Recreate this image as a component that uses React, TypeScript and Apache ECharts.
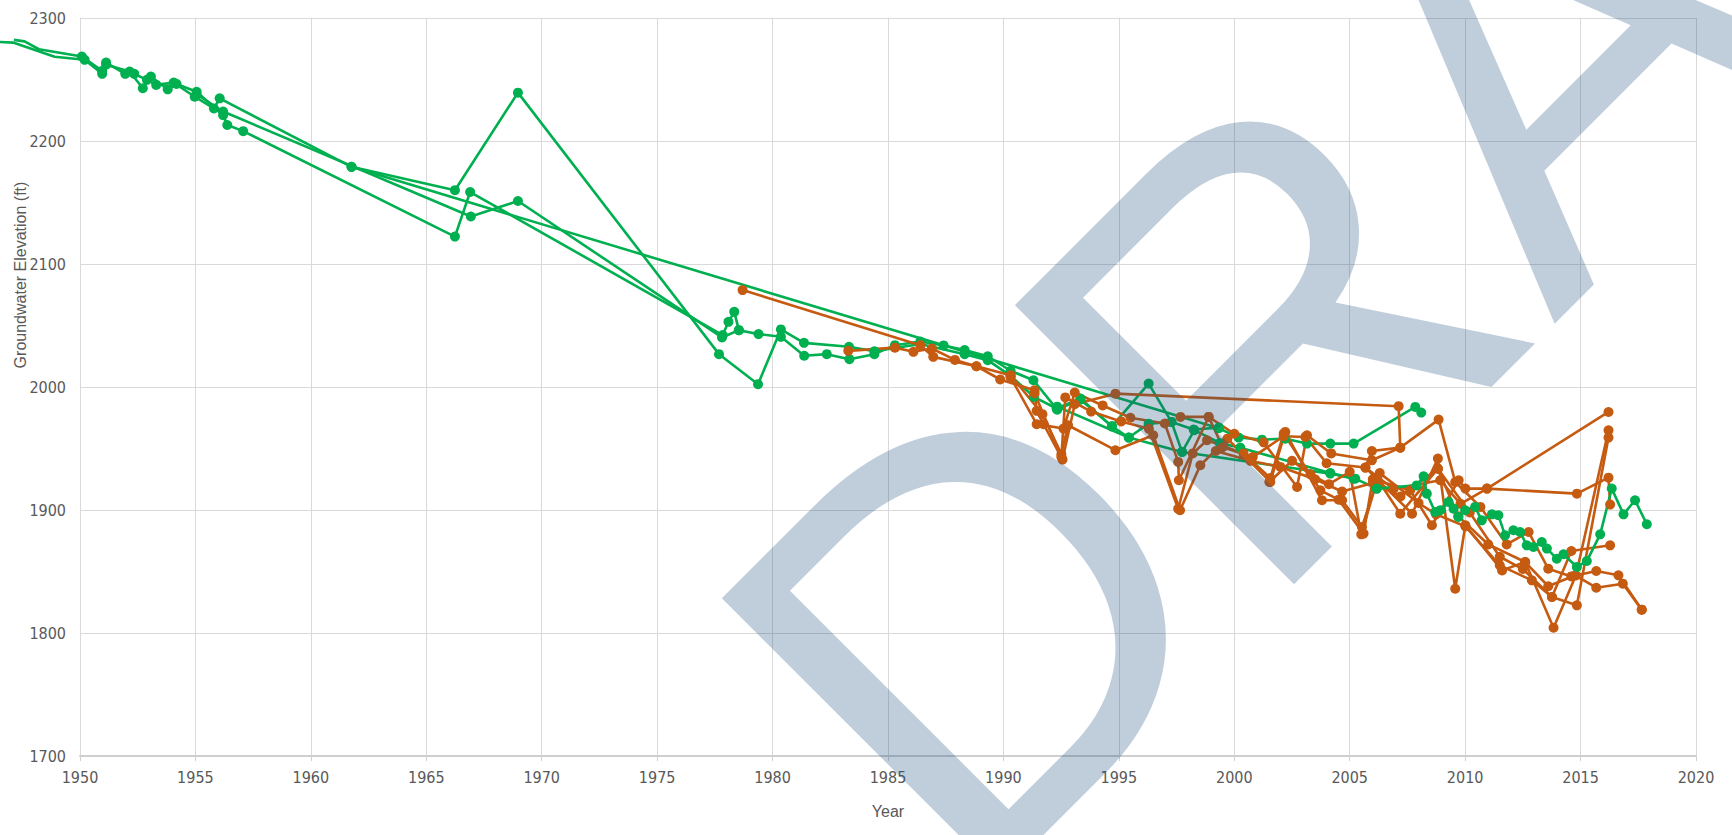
import React, { useEffect, useRef } from 'react';
import * as echarts from 'echarts';

const X_MIN = 1950;
const X_MAX = 2020;
const X_STEP = 5;
const Y_MIN = 1700;
const Y_MAX = 2300;
const Y_STEP = 100;
const X_TITLE = 'Year';
const Y_TITLE = 'Groundwater Elevation (ft)';
const WATERMARK = 'DRAFT';

// [year, groundwater elevation (ft)] — points before 1950 lie left of the axis (no marker)
const greenWellA = [
  [1945.5, 2281.5], [1947.1, 2280], [1948.9, 2268.5],
  [1950.2, 2266], [1950.96, 2254.6], [1951.13, 2263.8], [1951.96, 2254.6], [1952.35, 2254.6],
  [1952.9, 2249.7], [1953.3, 2245.6], [1954.06, 2247.5], [1954.97, 2236], [1955.8, 2226.5],
  [1956.05, 2234.7], [1961.76, 2179], [1999.33, 1966.5], [2000.19, 1958.9], [2001.2, 1957.2],
  [2002.21, 1958], [2003.15, 1954], [2004.16, 1954], [2005.17, 1954], [2007.84, 1983.8], [2008.1, 1979.2],
];
const greenWellB = [
  [1947.14, 2282.2], [1947.6, 2281], [1948.22, 2274.6],
  [1950.08, 2268.7], [1950.96, 2257], [1951.13, 2262], [1952.15, 2256.5], [1952.72, 2242.9],
  [1953.07, 2252.4], [1953.8, 2242], [1954.18, 2246.4], [1955.05, 2240], [1956.2, 2221],
  [1956.38, 2213], [1957.07, 2208], [1966.24, 2122.3], [1966.9, 2158.5], [1977.84, 2042.2],
  [1978.09, 2053], [1978.34, 2061.1], [1978.54, 2046.2], [1979.39, 2043], [1980.36, 2040.8],
  [1981.37, 2025.4], [1982.35, 2026.7], [1983.33, 2022.6], [1984.41, 2026.7], [1985.3, 2034],
  [1986.4, 2037], [1987.41, 2033.8], [1988.32, 2030], [1989.32, 2025], [1990.31, 2013.2],
  [1991.3, 2005.5], [1992.33, 1981.6], [1993.33, 1989.8], [1994.7, 1968], [1995.43, 1958.9],
  [1996.29, 1970.2], [1997.28, 1971.6], [1997.74, 1947.2], [1998.27, 1964.9], [1999.37, 1954.5],
  [2000.26, 1950.7], [2004.16, 1930.1], [2005.24, 1925.5], [2006.17, 1917.4],
];
const greenWellC = [
  [1961.76, 2179], [1966.24, 2160], [1968.97, 2239.3], [1977.68, 2026.7], [1979.37, 2002.3],
  [1980.36, 2046.8], [1981.36, 2035.9], [1983.31, 2032.7], [1984.41, 2029], [1986.4, 2035],
  [1988.32, 2026.7], [1989.32, 2021.8], [1990.31, 2009], [1991.32, 1992], [1992.3, 1982.5],
  [1993.34, 1990.6], [1994.7, 1968], [1996.29, 2002.8], [1997.28, 1971.6], [1998.24, 1965.4],
  [1999.33, 1967],
];
const greenWellD = [
  [1955.05, 2238], [1956.2, 2224], [1966.93, 2138.6], [1968.97, 2151.2], [1977.81, 2040.3],
  [1978.54, 2046.2],
];
const greenWellE = [
  [1992.33, 1984], [1995.43, 1958.9], [1997.74, 1947.2], [2004.16, 1929.6], [2005.17, 1925.5],
];
const greenWellF = [
  [2006.17, 1917.4], [2007.9, 1920], [2008.2, 1927.4], [2008.34, 1913.3], [2008.7, 1898.4],
  [2008.92, 1899.8], [2009.28, 1906.5], [2009.5, 1901.1], [2009.71, 1894.3], [2010.0, 1899.8],
  [2010.43, 1902.5], [2010.72, 1891.6], [2011.16, 1896.5], [2011.44, 1895.7], [2011.73, 1879.4],
  [2012.09, 1883.5], [2012.38, 1882.1], [2012.67, 1871.3], [2012.96, 1869.9], [2013.32, 1874],
  [2013.54, 1868.6], [2013.97, 1860.4], [2014.26, 1864], [2014.84, 1853.7], [2015.27, 1858.5],
  [2015.85, 1880.2], [2016.35, 1917.4], [2016.86, 1896.5], [2017.36, 1907.9], [2017.87, 1888.4],
];

const orangeWellA = [
  [1978.7, 2078.8], [1986.4, 2034], [1986.96, 2024.5], [1988.83, 2016.9], [1989.86, 2006.1],
  [1991.35, 1997.4], [1991.44, 1980.6], [1991.74, 1969.8], [1992.56, 1941], [1993.09, 1986],
  [1994.85, 1994.6], [2007.12, 1984.4], [2007.19, 1950.7], [2005.96, 1948], [2005.68, 1934.5],
  [2007.7, 1897], [2008.82, 1941.8], [2009.57, 1836], [2010.01, 1887.6], [2011.6, 1850.9],
  [2012.6, 1857.7], [2013.83, 1804.3], [2014.8, 1846.9], [2016.21, 1964.8],
];
const orangeWellB = [
  [1983.28, 2029.4], [1985.3, 2032], [1986.1, 2028.6], [1986.9, 2031.3], [1987.9, 2022],
  [1988.83, 2016.9], [1990.31, 2009.6], [1991.69, 1977.9], [1992.51, 1945.4], [1992.8, 1968.9],
  [1994.85, 1948.6], [1996.49, 1960.8], [1997.65, 1899.8], [1998.53, 1936.4], [1999.7, 1958],
  [2001.56, 1922.8], [2002.21, 1963.5], [2003.8, 1907.9], [2004.67, 1907.9], [2005.53, 1886.2],
  [2006.3, 1930], [2007.98, 1905.7], [2008.74, 1896.5], [2010.01, 1886.7], [2011.5, 1855],
  [2012.89, 1842.8], [2013.76, 1829.3], [2014.84, 1822.5], [2016.21, 1958.9],
];
const orangeWellC = [
  [1990.31, 2008], [1991.44, 1969.8], [1992.6, 1966.2], [1993.09, 1995.5], [1994.3, 1985],
  [1995.5, 1975], [1996.99, 1970.3], [1997.57, 1939.1], [1997.6, 1924.2], [1998.89, 1975.7],
  [2000.0, 1962], [2001.27, 1955], [2002.72, 1918.7], [2003.15, 1960.8], [2004.2, 1946],
  [2005.96, 1940.4], [2007.19, 1950.7], [2008.85, 1973.5], [2009.57, 1922.8], [2010.66, 1902.5],
  [2011.8, 1872], [2012.75, 1882.1], [2013.6, 1852.3], [2014.6, 1846], [2015.68, 1850.4],
  [2016.64, 1846.9], [2017.65, 1819],
];
const orangeWellD = [
  [1991.35, 1995], [1992.51, 1943], [1992.68, 1991.5], [1993.8, 1980], [1995.1, 1972],
  [1996.3, 1966], [1997.57, 1901], [1998.2, 1946], [1998.82, 1956.7], [2000.4, 1946],
  [2001.56, 1926], [2002.14, 1962.1], [2003.73, 1916], [2004.52, 1908.4], [2005.6, 1880.8],
  [2006.0, 1925], [2007.62, 1916], [2008.56, 1887.6], [2009.72, 1924.2], [2010.01, 1917.4],
  [2010.95, 1917.4], [2016.21, 1979.7],
];
const orangeWellE = [
  [1997.67, 1975.7], [1998.89, 1975.7], [1999.5, 1951], [2000.8, 1943], [2002.14, 1960],
  [2003.08, 1959.4], [2004.0, 1938], [2005.68, 1934.5], [2006.9, 1917], [2008.92, 1924.2],
  [2009.8, 1905], [2010.95, 1917.4], [2014.84, 1913.3], [2016.21, 1926.3], [2016.28, 1904.4],
];
const orangeWellF = [
  [2001.52, 1922.8], [2002.5, 1940], [2003.3, 1929], [2004.1, 1921], [2005.0, 1931],
  [2005.5, 1880.2], [2006.2, 1925], [2007.19, 1897], [2008.82, 1933.6], [2009.7, 1895],
  [2011.0, 1872], [2012.6, 1857.7], [2013.6, 1838], [2014.77, 1846.9], [2015.68, 1836.8],
  [2016.83, 1840.1], [2017.65, 1819],
];
const orangeWellG = [
  [1999.2, 1948], [2000.7, 1940], [2002.0, 1935], [2003.5, 1925], [2004.67, 1915],
  [2006.0, 1922], [2007.2, 1911], [2008.82, 1933.6], [2010.2, 1898], [2011.5, 1862],
  [2012.5, 1852], [2013.76, 1829.3], [2014.6, 1866.7], [2016.28, 1871.3],
];

const GREEN = '#00b050';
const ORANGE = '#c55a11';
const NARROW = "'Liberation Sans Narrow', 'Arial Narrow', 'DejaVu Sans Condensed', sans-serif";
const SANS = "'Liberation Sans', Arial, sans-serif";
const GRID_LEFT = 80;
const GRID_RIGHT = 36;
const CHART_W = 1732;

function inRange(data: number[][]) {
  return data.filter(([x]) => x >= X_MIN);
}
function leadIn(data: number[][]) {
  const i = data.findIndex(([x]) => x >= X_MIN);
  return i > 0 ? data.slice(0, i + 1) : [];
}

function lineSeries(name: string, data: number[][], color: string) {
  return {
    name,
    type: 'line',
    xAxisIndex: 0,
    yAxisIndex: 0,
    symbol: 'circle',
    symbolSize: 10,
    showSymbol: true,
    data: inRange(data),
    lineStyle: { color, width: 2.6 },
    itemStyle: { color },
    emphasis: { disabled: true },
    z: 2,
  };
}
function leadSeries(name: string, data: number[][], color: string) {
  return {
    name: name + ' (pre-1950)',
    type: 'line',
    xAxisIndex: 1,
    yAxisIndex: 1,
    symbol: 'none',
    data: leadIn(data),
    lineStyle: { color, width: 2.6 },
    emphasis: { disabled: true },
    z: 2,
  };
}

export default function App() {
  const ref = useRef<HTMLDivElement>(null);
  useEffect(() => {
    if (!ref.current) return;
    const chart = echarts.init(ref.current, undefined, { renderer: 'svg' });
    const labelStyle = { color: '#595959', fontSize: 16, fontFamily: NARROW };
    const plotW = CHART_W - GRID_LEFT - GRID_RIGHT;
    const pxPerYear = plotW / (X_MAX - X_MIN);
    const leadMin = X_MIN - GRID_LEFT / pxPerYear;
    chart.setOption({
      animation: false,
      backgroundColor: '#ffffff',
      grid: [
        { left: GRID_LEFT, right: GRID_RIGHT, top: 18, bottom: 79, containLabel: false },
        { left: 0, right: GRID_RIGHT, top: 18, bottom: 79, containLabel: false },
      ],
      xAxis: [
        {
          type: 'value',
          gridIndex: 0,
          min: X_MIN,
          max: X_MAX,
          interval: X_STEP,
          name: X_TITLE,
          nameLocation: 'middle',
          nameGap: 47,
          nameTextStyle: { color: '#595959', fontSize: 16, fontFamily: SANS },
          axisLine: { show: true, onZero: false, lineStyle: { color: '#cfcfcf', width: 2 } },
          axisTick: { show: true, length: 5, lineStyle: { color: '#cfcfcf', width: 1 } },
          axisLabel: { ...labelStyle, margin: 13, formatter: (v: number) => String(v) },
          splitLine: { show: true, lineStyle: { color: '#d9d9d9', width: 1 } },
        },
        { type: 'value', gridIndex: 1, min: leadMin, max: X_MAX, show: false, splitLine: { show: false } },
      ],
      yAxis: [
        {
          type: 'value',
          gridIndex: 0,
          min: Y_MIN,
          max: Y_MAX,
          interval: Y_STEP,
          axisLine: { show: true, lineStyle: { color: '#d9d9d9', width: 1 } },
          axisTick: { show: false },
          axisLabel: { ...labelStyle, margin: 14, formatter: (v: number) => String(v) },
          splitLine: { show: true, lineStyle: { color: '#d9d9d9', width: 1 } },
        },
        { type: 'value', gridIndex: 1, min: Y_MIN, max: Y_MAX, show: false, splitLine: { show: false } },
      ],
      graphic: [
        {
          type: 'text',
          x: 20,
          y: 275,
          rotation: Math.PI / 2,
          silent: true,
          style: {
            text: Y_TITLE,
            fontSize: 16,
            fontFamily: SANS,
            fill: '#595959',
            align: 'center',
            verticalAlign: 'middle',
            textAlign: 'center',
            textVerticalAlign: 'middle',
          },
        },
        {
          type: 'text',
          x: 827,
          y: 770,
          rotation: Math.PI / 4,
          silent: true,
          z: 100,
          style: {
            text: WATERMARK,
            fontSize: 574,
            fontFamily: SANS,
            fill: 'rgba(30,80,130,0.28)',
            align: 'left',
            verticalAlign: 'middle',
            textAlign: 'left',
            textVerticalAlign: 'middle',
          },
        },
      ],
      series: [
        leadSeries('Well A', greenWellA, GREEN),
        leadSeries('Well B', greenWellB, GREEN),
        lineSeries('Well A', greenWellA, GREEN),
        lineSeries('Well B', greenWellB, GREEN),
        lineSeries('Well C', greenWellC, GREEN),
        lineSeries('Well D', greenWellD, GREEN),
        lineSeries('Well E', greenWellE, GREEN),
        lineSeries('Well 1', orangeWellA, ORANGE),
        lineSeries('Well 2', orangeWellB, ORANGE),
        lineSeries('Well 3', orangeWellC, ORANGE),
        lineSeries('Well 4', orangeWellD, ORANGE),
        lineSeries('Well 5', orangeWellE, ORANGE),
        lineSeries('Well 6', orangeWellF, ORANGE),
        lineSeries('Well 7', orangeWellG, ORANGE),
        lineSeries('Well F', greenWellF, GREEN),
      ],
    });
    return () => chart.dispose();
  }, []);
  return (
    <div
      ref={ref}
      style={{ position: 'fixed', left: 0, top: 0, width: CHART_W, height: 835, background: '#fff' }}
    />
  );
}
